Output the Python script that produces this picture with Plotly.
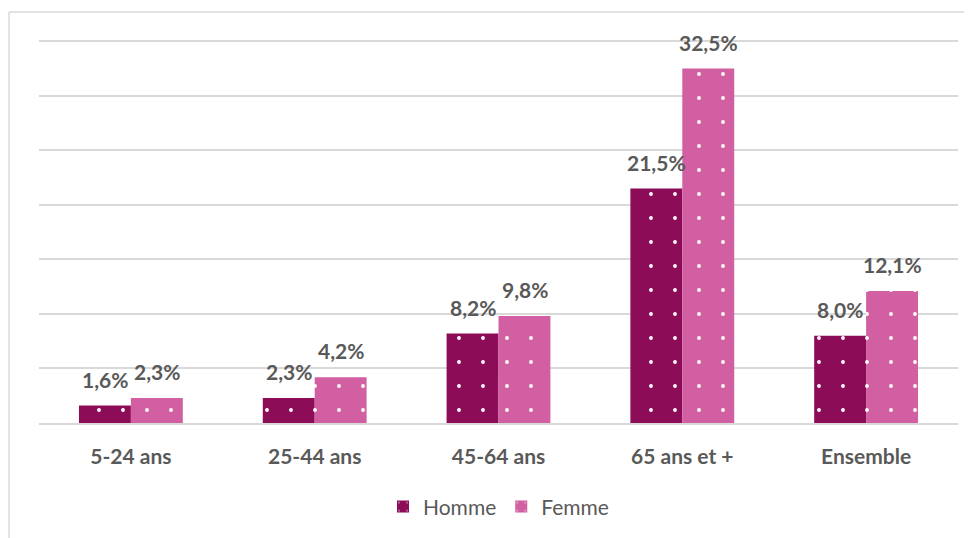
import plotly.graph_objects as go

# Data
categories = ["5-24 ans", "25-44 ans", "45-64 ans", "65 ans et +", "Ensemble"]
homme = [1.6, 2.3, 8.2, 21.5, 8.0]
femme = [2.3, 4.2, 9.8, 32.5, 12.1]

homme_color = "#8C0C57"
femme_color = "#D15FA2"
text_gray = "#595959"
grid_gray = "#D9D9D9"
label_font = dict(family="Lato", size=21, color=text_gray, weight="bold")

fig = go.Figure()

for name, values, color in [("Homme", homme, homme_color), ("Femme", femme, femme_color)]:
    fig.add_trace(go.Bar(
        name=name,
        x=categories,
        y=values,
        marker=dict(
            color=color,
            line=dict(width=0),
            pattern=dict(shape=".", fgcolor="white", bgcolor=color,
                         size=24, solidity=0.02, fillmode="replace"),
        ),
        hoverinfo="x+y+name",
    ))

# value labels above the bars (Homme left of centre, Femme right)
annotations = []
for values, shift in [(homme, -26), (femme, 26)]:
    for cat, v in zip(categories, values):
        annotations.append(dict(
            x=cat, y=v, xref="x", yref="y",
            text=f"{v:.1f}%".replace(".", ","),
            showarrow=False, xshift=shift, yshift=12,
            yanchor="bottom", font=label_font,
        ))

# the page body adds an 8px margin, so the figure is sized to fit inside it
fig.update_layout(
    width=964,
    height=530,
    barmode="group",
    bargap=0.435,
    bargroupgap=0,
    plot_bgcolor="white",
    paper_bgcolor="white",
    margin=dict(l=31, r=14, t=30, b=115, autoexpand=False),
    font=dict(family="Lato", color=text_gray),
    legend=dict(
        orientation="h",
        x=0.5, xanchor="center",
        y=-0.218, yanchor="middle",
        font=dict(size=21, color=text_gray),
        itemwidth=30,
        traceorder="normal",
    ),
    xaxis=dict(
        showgrid=False,
        showline=True,
        linecolor=grid_gray,
        linewidth=1.5,
        ticks="",
        ticklabelstandoff=14,
        tickfont=label_font,
    ),
    yaxis=dict(
        range=[0, 35.3],
        tick0=0,
        dtick=5,
        showgrid=True,
        gridcolor=grid_gray,
        gridwidth=1.5,
        zeroline=False,
        showticklabels=False,
    ),
    annotations=annotations,
    shapes=[
        dict(type="line", xref="paper", yref="paper", x0=-0.0326, x1=1.02, y0=1.0675, y1=1.0675,
             line=dict(color=grid_gray, width=1.5)),
        dict(type="line", xref="paper", yref="paper", x0=-0.0326, x1=-0.0326, y0=1.0675, y1=-0.32,
             line=dict(color=grid_gray, width=1.5)),
    ],
)

fig.write_html("out.html")
